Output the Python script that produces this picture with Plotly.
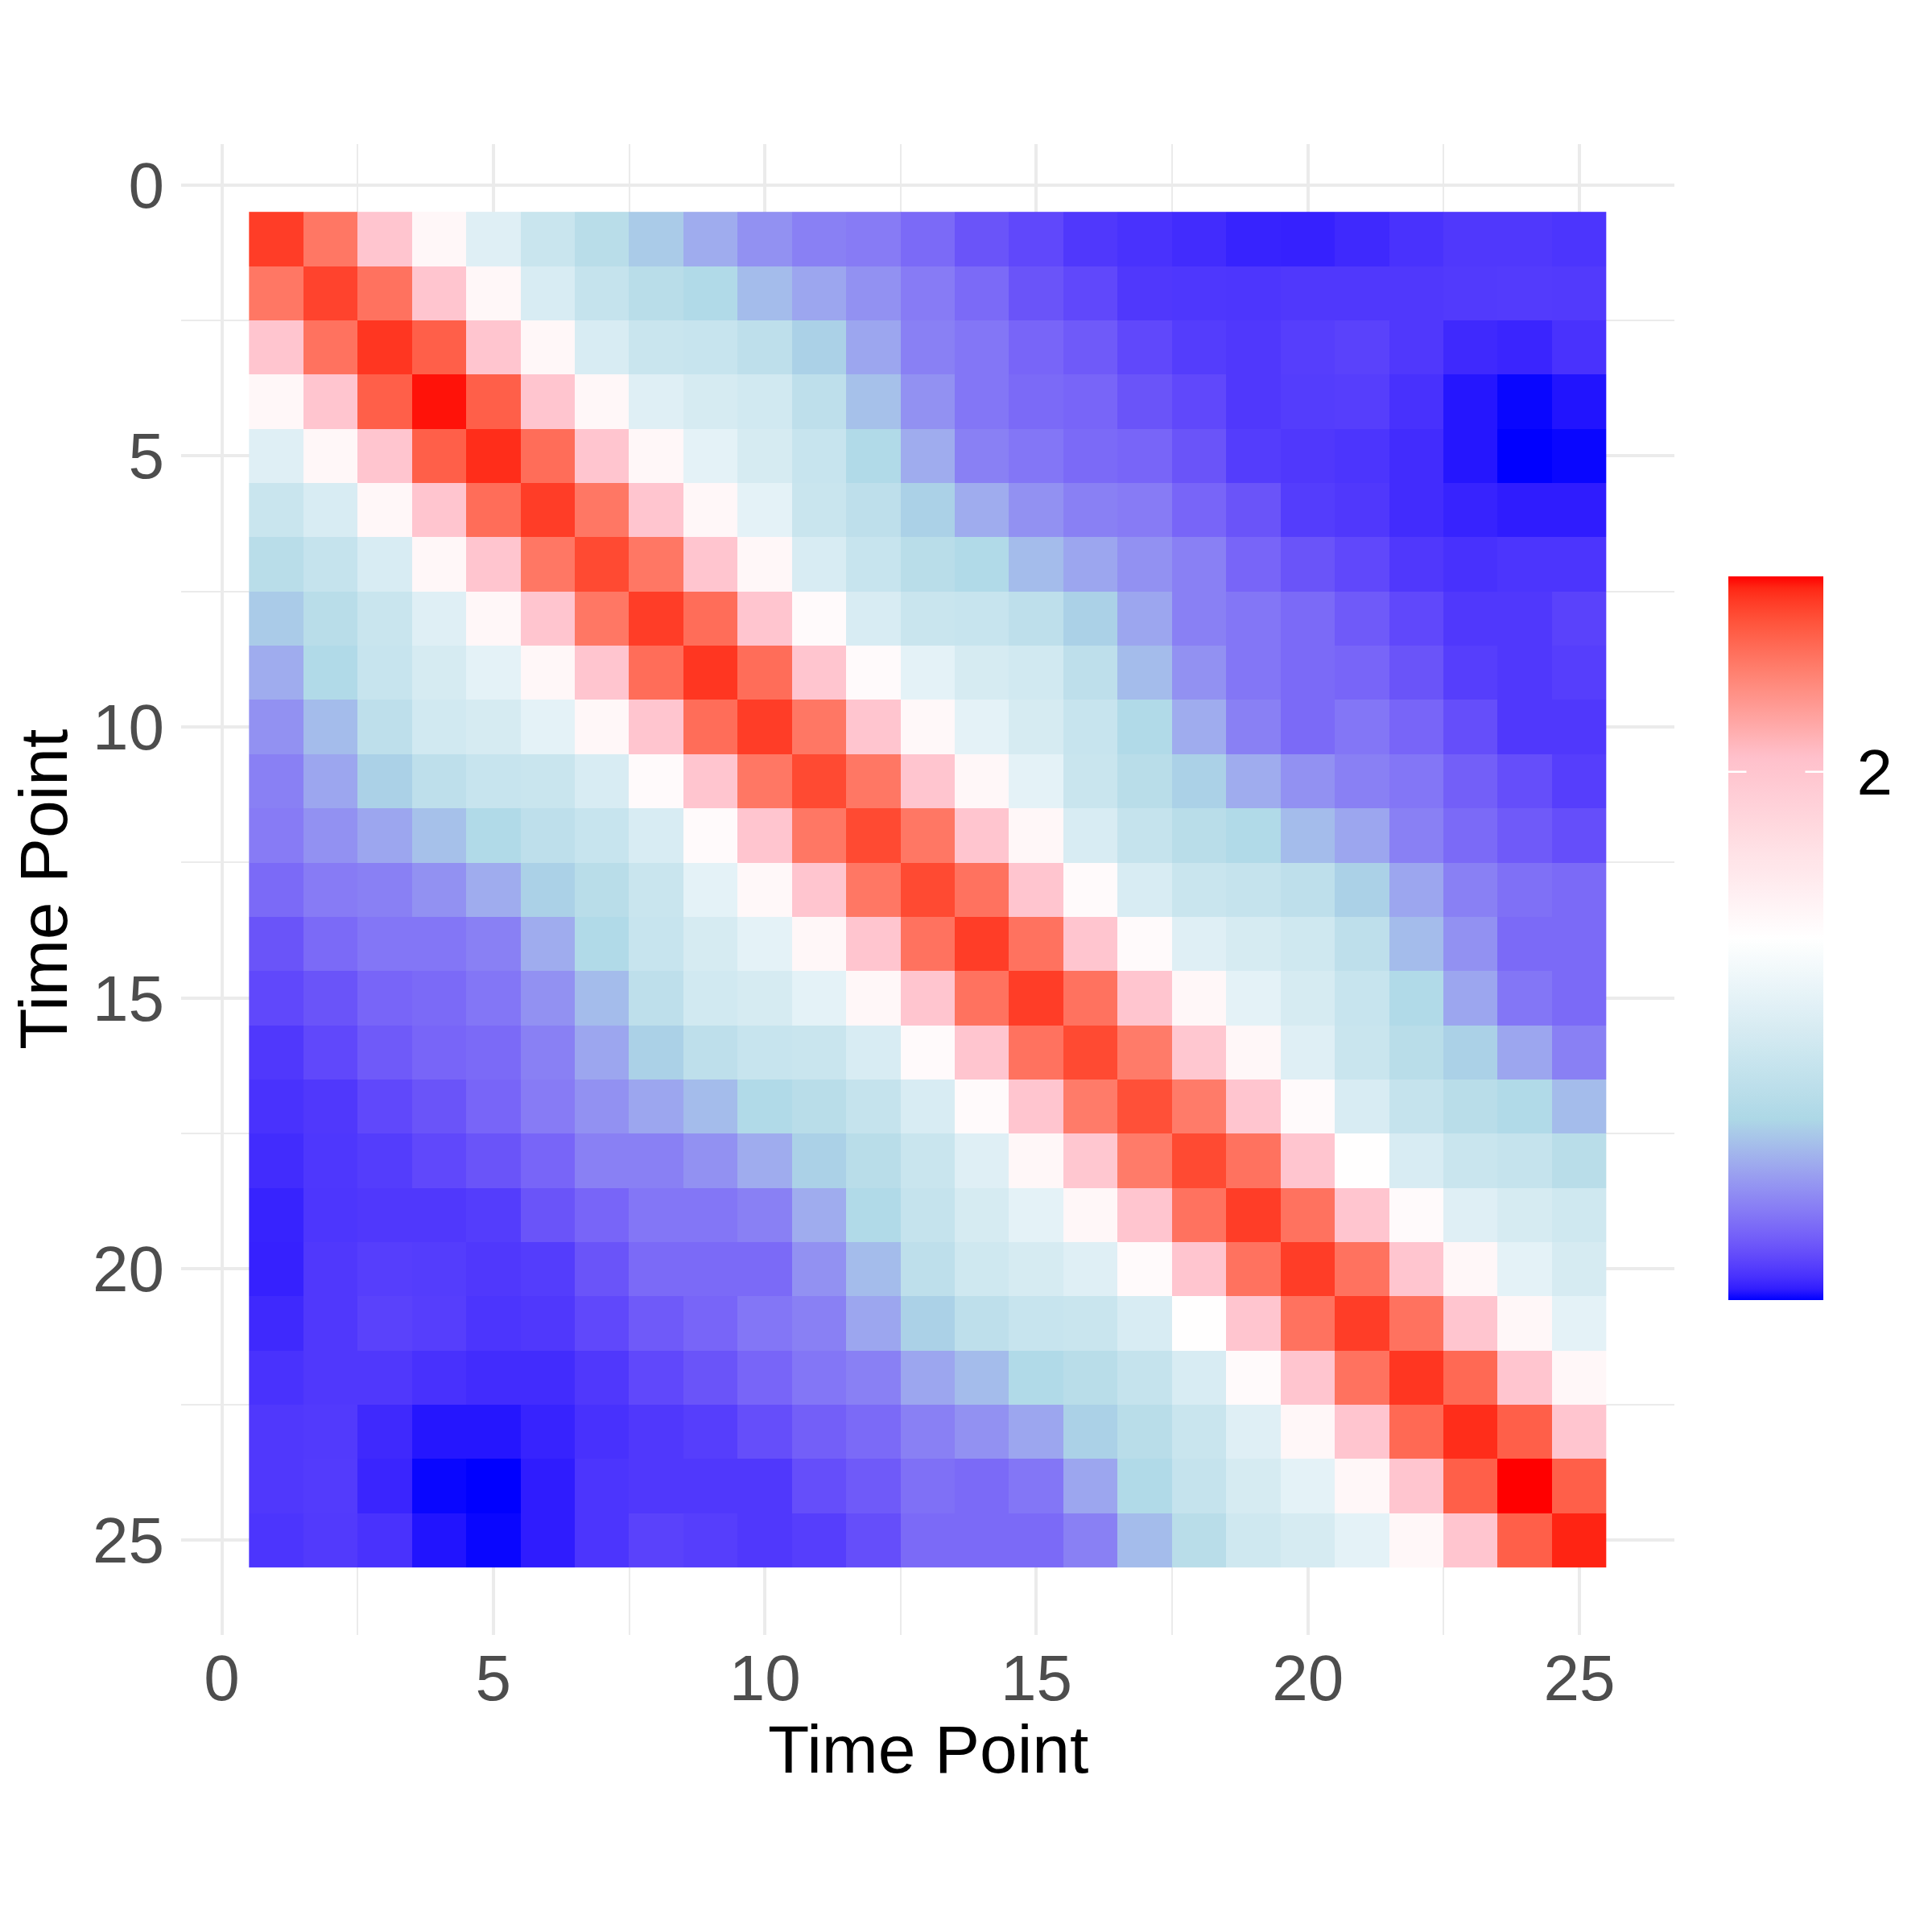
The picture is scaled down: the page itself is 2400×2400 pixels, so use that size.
import plotly.graph_objects as go

# time points on both axes
time_points = list(range(1, 26))

# similarity matrix, one list per row (row 1 = top)
r01 = [2.32, 2.21, 2.00, 1.73, 1.55, 1.46, 1.39, 1.32, 1.26, 1.21, 1.18, 1.17, 1.14, 1.10, 1.08, 1.055, 1.046, 1.038, 1.027, 1.025, 1.035, 1.046, 1.055, 1.055, 1.050]
r02 = [2.21, 2.31, 2.22, 2.00, 1.73, 1.52, 1.44, 1.39, 1.36, 1.29, 1.25, 1.21, 1.17, 1.14, 1.10, 1.08, 1.055, 1.053, 1.052, 1.055, 1.055, 1.055, 1.058, 1.06, 1.058]
r03 = [2.00, 2.22, 2.33, 2.26, 2.00, 1.73, 1.52, 1.46, 1.45, 1.41, 1.33, 1.25, 1.18, 1.16, 1.13, 1.11, 1.08, 1.062, 1.055, 1.065, 1.07, 1.055, 1.035, 1.030, 1.046]
r04 = [1.73, 2.00, 2.26, 2.36, 2.26, 2.00, 1.73, 1.55, 1.51, 1.49, 1.41, 1.30, 1.21, 1.16, 1.14, 1.13, 1.10, 1.08, 1.055, 1.062, 1.065, 1.044, 1.016, 1.004, 1.014]
r05 = [1.55, 1.73, 2.00, 2.26, 2.34, 2.23, 2.00, 1.73, 1.57, 1.51, 1.45, 1.36, 1.26, 1.18, 1.16, 1.14, 1.13, 1.10, 1.062, 1.055, 1.050, 1.038, 1.016, 1.000, 1.004]
r06 = [1.46, 1.52, 1.73, 2.00, 2.23, 2.32, 2.21, 2.00, 1.73, 1.57, 1.46, 1.41, 1.33, 1.26, 1.21, 1.18, 1.17, 1.13, 1.10, 1.062, 1.055, 1.038, 1.027, 1.020, 1.020]
r07 = [1.39, 1.44, 1.52, 1.73, 2.00, 2.21, 2.30, 2.21, 2.00, 1.73, 1.52, 1.45, 1.39, 1.36, 1.29, 1.25, 1.21, 1.18, 1.13, 1.10, 1.08, 1.055, 1.044, 1.050, 1.050]
r08 = [1.32, 1.39, 1.46, 1.55, 1.73, 2.00, 2.21, 2.32, 2.23, 2.00, 1.71, 1.52, 1.46, 1.45, 1.41, 1.33, 1.25, 1.18, 1.16, 1.14, 1.11, 1.08, 1.055, 1.055, 1.07]
r09 = [1.26, 1.36, 1.45, 1.51, 1.57, 1.73, 2.00, 2.23, 2.33, 2.23, 2.00, 1.71, 1.57, 1.51, 1.49, 1.41, 1.29, 1.21, 1.16, 1.14, 1.13, 1.10, 1.065, 1.055, 1.065]
r10 = [1.21, 1.29, 1.41, 1.49, 1.51, 1.57, 1.73, 2.00, 2.23, 2.32, 2.21, 2.00, 1.72, 1.57, 1.51, 1.45, 1.36, 1.26, 1.18, 1.14, 1.16, 1.13, 1.09, 1.055, 1.055]
r11 = [1.18, 1.25, 1.33, 1.41, 1.45, 1.46, 1.52, 1.71, 2.00, 2.21, 2.30, 2.21, 2.00, 1.73, 1.57, 1.46, 1.39, 1.33, 1.26, 1.21, 1.18, 1.16, 1.12, 1.09, 1.065]
r12 = [1.17, 1.21, 1.25, 1.30, 1.36, 1.41, 1.45, 1.52, 1.71, 2.00, 2.21, 2.30, 2.21, 2.00, 1.73, 1.52, 1.44, 1.39, 1.36, 1.29, 1.25, 1.18, 1.14, 1.11, 1.09]
r13 = [1.14, 1.17, 1.18, 1.21, 1.26, 1.33, 1.39, 1.46, 1.57, 1.72, 2.00, 2.21, 2.30, 2.22, 2.00, 1.71, 1.52, 1.46, 1.44, 1.41, 1.33, 1.25, 1.18, 1.15, 1.14]
r14 = [1.10, 1.14, 1.16, 1.16, 1.18, 1.26, 1.36, 1.45, 1.51, 1.57, 1.73, 2.00, 2.22, 2.32, 2.22, 2.00, 1.71, 1.55, 1.51, 1.48, 1.41, 1.29, 1.21, 1.14, 1.14]
r15 = [1.08, 1.10, 1.13, 1.14, 1.16, 1.21, 1.29, 1.41, 1.49, 1.51, 1.57, 1.73, 2.00, 2.22, 2.32, 2.22, 2.00, 1.73, 1.57, 1.51, 1.45, 1.36, 1.25, 1.16, 1.14]
r16 = [1.055, 1.08, 1.11, 1.13, 1.14, 1.18, 1.25, 1.33, 1.41, 1.45, 1.46, 1.52, 1.71, 2.00, 2.22, 2.30, 2.20, 1.99, 1.73, 1.55, 1.46, 1.39, 1.33, 1.25, 1.18]
r17 = [1.046, 1.055, 1.08, 1.10, 1.13, 1.17, 1.21, 1.25, 1.29, 1.36, 1.39, 1.44, 1.52, 1.71, 2.00, 2.20, 2.29, 2.20, 2.00, 1.71, 1.52, 1.44, 1.39, 1.36, 1.29]
r18 = [1.038, 1.053, 1.062, 1.08, 1.10, 1.13, 1.18, 1.18, 1.21, 1.26, 1.33, 1.39, 1.46, 1.55, 1.73, 1.99, 2.20, 2.30, 2.22, 2.00, 1.69, 1.52, 1.46, 1.44, 1.39]
r19 = [1.027, 1.052, 1.055, 1.055, 1.062, 1.10, 1.13, 1.16, 1.16, 1.18, 1.26, 1.36, 1.44, 1.51, 1.57, 1.73, 2.00, 2.22, 2.32, 2.22, 2.00, 1.71, 1.55, 1.51, 1.48]
r20 = [1.025, 1.055, 1.065, 1.062, 1.055, 1.062, 1.10, 1.14, 1.14, 1.14, 1.21, 1.29, 1.41, 1.48, 1.51, 1.55, 1.71, 2.00, 2.22, 2.32, 2.22, 2.00, 1.73, 1.57, 1.51]
r21 = [1.035, 1.055, 1.07, 1.065, 1.050, 1.055, 1.08, 1.11, 1.13, 1.16, 1.18, 1.25, 1.33, 1.41, 1.45, 1.46, 1.52, 1.69, 2.00, 2.22, 2.32, 2.22, 2.00, 1.73, 1.57]
r22 = [1.046, 1.055, 1.055, 1.044, 1.038, 1.038, 1.055, 1.08, 1.10, 1.13, 1.16, 1.18, 1.25, 1.29, 1.36, 1.39, 1.44, 1.52, 1.71, 2.00, 2.22, 2.33, 2.24, 2.00, 1.73]
r23 = [1.055, 1.058, 1.035, 1.016, 1.016, 1.027, 1.044, 1.055, 1.065, 1.09, 1.12, 1.14, 1.18, 1.21, 1.25, 1.33, 1.39, 1.46, 1.55, 1.73, 2.00, 2.24, 2.34, 2.26, 2.00]
r24 = [1.055, 1.06, 1.030, 1.004, 1.000, 1.020, 1.050, 1.055, 1.055, 1.055, 1.09, 1.11, 1.15, 1.14, 1.16, 1.25, 1.36, 1.44, 1.51, 1.57, 1.73, 2.00, 2.26, 2.37, 2.26]
r25 = [1.050, 1.058, 1.046, 1.014, 1.004, 1.020, 1.050, 1.07, 1.065, 1.055, 1.065, 1.09, 1.14, 1.14, 1.14, 1.18, 1.29, 1.39, 1.48, 1.51, 1.57, 1.73, 2.00, 2.26, 2.35]

z = [r01, r02, r03, r04, r05, r06, r07, r08, r09, r10, r11, r12, r13,
     r14, r15, r16, r17, r18, r19, r20, r21, r22, r23, r24, r25]

legend_breaks = [2]

# gradient colours (blue -> lightblue -> white -> pink -> red), mixed in Lab like ggplot
anchors = ["#0000FF", "#ADD8E6", "#FFFFFF", "#FFC0CB", "#FF0000"]


def to_lab(hx):
    c = [int(hx[i:i + 2], 16) / 255 for i in (1, 3, 5)]
    c = [v / 12.92 if v <= 0.04045 else ((v + 0.055) / 1.055) ** 2.4 for v in c]
    x = (0.4124 * c[0] + 0.3576 * c[1] + 0.1805 * c[2]) / 0.95047
    y = 0.2126 * c[0] + 0.7152 * c[1] + 0.0722 * c[2]
    zz = (0.0193 * c[0] + 0.1192 * c[1] + 0.9505 * c[2]) / 1.08883
    f = [t ** (1 / 3) if t > 0.008856 else 7.787 * t + 16 / 116 for t in (x, y, zz)]
    return 116 * f[1] - 16, 500 * (f[0] - f[1]), 200 * (f[1] - f[2])


def from_lab(L, a, b):
    fy = (L + 16) / 116
    fx = fy + a / 500
    fz = fy - b / 200
    xyz = [t ** 3 if t ** 3 > 0.008856 else (t - 16 / 116) / 7.787 for t in (fx, fy, fz)]
    x, y, zz = xyz[0] * 0.95047, xyz[1], xyz[2] * 1.08883
    r = 3.2406 * x - 1.5372 * y - 0.4986 * zz
    g = -0.9689 * x + 1.8758 * y + 0.0415 * zz
    bl = 0.0557 * x - 0.2040 * y + 1.0570 * zz
    out = []
    for v in (r, g, bl):
        v = min(max(v, 0), 1)
        v = 12.92 * v if v <= 0.0031308 else 1.055 * v ** (1 / 2.4) - 0.055
        out.append(round(min(max(v, 0), 1) * 255))
    return "rgb(%d,%d,%d)" % tuple(out)


labs = [to_lab(h) for h in anchors]
scale = []
n = 64
for k in range(n + 1):
    p = k / n
    seg = min(int(p * 4), 3)
    t = p * 4 - seg
    a0, a1 = labs[seg], labs[seg + 1]
    scale.append([p, from_lab(*[a0[i] + (a1[i] - a0[i]) * t for i in range(3)])])

# page has an 8px body margin, so the figure is laid out with that in mind
W, H = 2400, 2400
ml, mr, mt, mb = 217, 328, 171, 377
pw, ph = W - ml - mr, H - mt - mb

cb_x, cb_y, cb_len, cb_thick = 1.0361, 0.4673, 899, 118

fig = go.Figure(go.Heatmap(
    x=time_points, y=time_points, z=z,
    colorscale=scale,
    colorbar=dict(
        x=cb_x, xanchor="left", y=cb_y, yanchor="middle", xpad=0, ypad=0,
        len=cb_len, lenmode="pixels", thickness=cb_thick, outlinewidth=0,
        tickmode="array", tickvals=legend_breaks, ticks="outside", ticklen=26,
        tickcolor="rgba(255,255,255,0)",
        tickfont=dict(size=80, color="black", family="Liberation Sans"),
    ),
))

# white ggplot-style ticks inside the colour bar (drawn as short arrowless annotation lines)
zmin = min(min(r) for r in z)
zmax = max(max(r) for r in z)
bar_bottom = cb_y - cb_len / 2 / ph
for b in legend_breaks:
    yb = bar_bottom + (b - zmin) / (zmax - zmin) * cb_len / ph
    x_left = cb_x
    x_right = cb_x + cb_thick / pw
    for xt, off in ((x_left, 24), (x_right, -24)):
        fig.add_annotation(x=xt, y=yb, xref="paper", yref="paper", text="",
                           showarrow=True, arrowhead=0, arrowwidth=2.5, arrowcolor="white",
                           ax=off, ay=0, standoff=0, startstandoff=0)

grid = "#EBEBEB"
axis_style = dict(
    tick0=0, dtick=5, showgrid=True, gridcolor=grid, gridwidth=3.5,
    minor=dict(tick0=2.5, dtick=5, showgrid=True, gridcolor=grid, gridwidth=1.8),
    zeroline=False, showline=False, ticks="",
    tickfont=dict(size=80, color="#4D4D4D", family="Liberation Sans"),
)
fig.update_xaxes(range=[-0.75, 26.75], ticklabelstandoff=0, **axis_style)
fig.update_yaxes(range=[26.75, -0.75], ticklabelstandoff=20, **axis_style)

fig.add_annotation(text="Time Point", xref="paper", yref="paper", x=0.5, y=-0.0767,
                   showarrow=False, xanchor="center", yanchor="middle",
                   font=dict(size=84, color="black", family="Liberation Sans"))
fig.add_annotation(text="Time Point", xref="paper", yref="paper", x=-0.0922, y=0.5,
                   showarrow=False, xanchor="center", yanchor="middle", textangle=-90,
                   font=dict(size=84, color="black", family="Liberation Sans"))

fig.update_layout(
    width=W, height=H,
    margin=dict(l=ml, r=mr, t=mt, b=mb),
    plot_bgcolor="white", paper_bgcolor="white",
    font=dict(family="Liberation Sans"),
)

fig.write_html("out.html")
